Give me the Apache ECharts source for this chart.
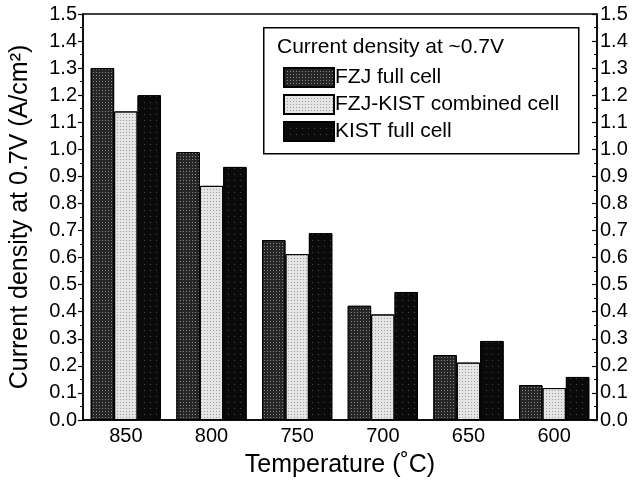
<!DOCTYPE html>
<html>
<head>
<meta charset="utf-8">
<script src="https://cdn.jsdelivr.net/npm/echarts@6/dist/echarts.min.js"></script>
<style>
  html, body { margin: 0; padding: 0; background: #fff; }
  #chart { width: 638px; height: 483px; }
</style>
</head>
<body>
<div id="chart"></div>
<script>
var temperatures = ['850', '800', '750', '700', '650', '600'];
var fzjFull = [1.30, 0.99, 0.665, 0.422, 0.24, 0.129];
var fzjKistCombined = [1.14, 0.865, 0.613, 0.39, 0.212, 0.118];
var kistFull = [1.20, 0.935, 0.69, 0.473, 0.292, 0.159];

var chart = echarts.init(document.getElementById('chart'));

var font = 'Liberation Sans, Arial, sans-serif';
var valueAxisBase = {
    type: 'value',
    min: 0,
    max: 1.5,
    interval: 0.1,
    axisLine: { show: true, lineStyle: { color: '#000', width: 1.5 } },
    splitLine: { show: false },
    axisLabel: {
        color: '#000',
        fontSize: 20,
        fontFamily: font,
        formatter: function (v) { return v.toFixed(1); }
    }
};

// dotted halftone look of the printed bars
function dots(col, gap) {
    return {
        symbol: 'rect',
        symbolSize: 1,
        color: col,
        dashArrayX: [1, gap],
        dashArrayY: [1, gap],
        rotation: 0
    };
}

var option = {
    animation: false,
    aria: { enabled: true, label: { enabled: false }, decal: { show: true } },
    grid: {
        left: 82,
        right: 41,
        top: 14,
        bottom: 63,
        show: true,
        borderColor: '#000',
        borderWidth: 1.5
    },
    legend: {
        orient: 'vertical',
        left: 278,
        top: 62,
        icon: 'rect',
        itemWidth: 50,
        itemHeight: 19,
        itemGap: 6,
        textStyle: { color: '#000', fontSize: 21, fontFamily: font, padding: [0, 0, 0, -4] },
        data: ['FZJ full cell', 'FZJ-KIST combined cell', 'KIST full cell']
    },
    graphic: [
        {
            type: 'rect',
            left: 263,
            top: 27,
            shape: { width: 315, height: 126 },
            style: { fill: '#fff', stroke: '#000', lineWidth: 1.5 },
            z: 0
        },
        {
            type: 'text',
            left: 277,
            top: 37,
            style: { text: 'Current density at ~0.7V', fill: '#000', font: '21px ' + font },
            z: 1
        }
    ],
    xAxis: {
        type: 'category',
        data: temperatures,
        name: 'Temperature (˚C)',
        nameLocation: 'middle',
        nameGap: 33,
        nameTextStyle: { color: '#000', fontSize: 25, fontFamily: font },
        axisLine: { lineStyle: { color: '#000', width: 1.5 } },
        axisTick: { show: true, inside: true, alignWithLabel: true, length: 7, lineStyle: { color: '#000', width: 1.2 } },
        axisLabel: { color: '#000', fontSize: 20, fontFamily: font, margin: 6 }
    },
    yAxis: [
        Object.assign({}, valueAxisBase, {
            position: 'left',
            axisTick: { show: true, inside: false, length: 5, lineStyle: { color: '#000', width: 1.2 } },
            minorTick: { show: true, splitNumber: 2, length: 3, lineStyle: { color: '#000' } },
            axisLabel: Object.assign({}, valueAxisBase.axisLabel, { margin: 6 }),
            name: 'Current density at 0.7V (A/cm²)',
            nameLocation: 'middle',
            nameGap: 50,
            nameTextStyle: { color: '#000', fontSize: 25, fontFamily: font }
        }),
        Object.assign({}, valueAxisBase, {
            position: 'right',
            axisTick: { show: true, inside: true, length: 5, lineStyle: { color: '#000', width: 1.2 } },
            minorTick: { show: true, splitNumber: 2, length: 3, lineStyle: { color: '#000' } },
            axisLabel: Object.assign({}, valueAxisBase.axisLabel, { margin: 3 })
        })
    ],
    series: [
        {
            name: 'FZJ full cell',
            type: 'bar',
            data: fzjFull,
            barGap: '0%',
            barCategoryGap: '18%',
            itemStyle: { color: '#262626', borderColor: '#000', borderWidth: 1, decal: dots('rgba(255,255,255,0.45)', 2) }
        },
        {
            name: 'FZJ-KIST combined cell',
            type: 'bar',
            data: fzjKistCombined,
            itemStyle: { color: '#e4e4e4', borderColor: '#000', borderWidth: 1, decal: dots('rgba(0,0,0,0.3)', 2) }
        },
        {
            name: 'KIST full cell',
            type: 'bar',
            data: kistFull,
            itemStyle: { color: '#0a0a0a', borderColor: '#000', borderWidth: 1, decal: dots('rgba(255,255,255,0.25)', 5) }
        }
    ]
};

chart.setOption(option);
</script>
</body>
</html>
